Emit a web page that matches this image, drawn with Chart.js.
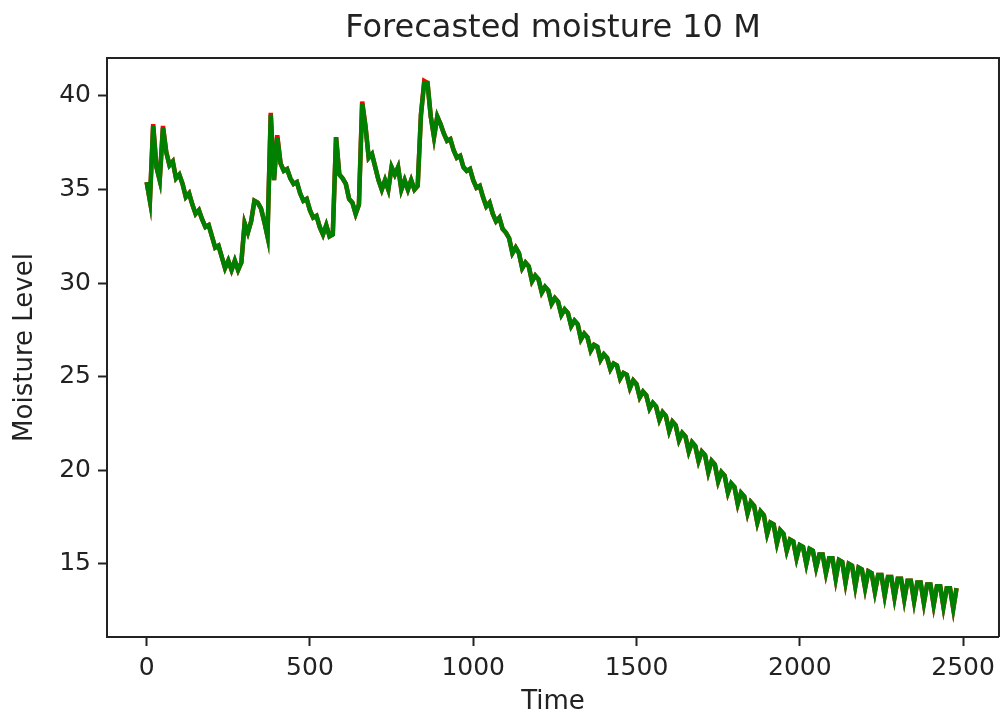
<!DOCTYPE html>
<html>
<head>
<meta charset="utf-8">
<title>Forecasted moisture 10 M</title>
<script src="https://cdn.jsdelivr.net/npm/chart.js@4.4.0/dist/chart.umd.min.js"></script>
<style>
  html, body { margin: 0; padding: 0; background: #ffffff; }
  canvas { display: block; }
</style>
</head>
<body>
<canvas id="moistureChart" width="1002" height="715"></canvas>
<script>
// Time steps (x values)
const time = [
  0, 10, 20, 30, 40, 50, 60, 70, 80, 90,
  100, 110, 120, 130, 140, 150, 160, 170, 180, 190,
  200, 210, 220, 230, 240, 250, 260, 270, 280, 290,
  300, 310, 320, 330, 340, 350, 360, 370, 380, 390,
  400, 410, 420, 430, 440, 450, 460, 470, 480, 490,
  500, 510, 520, 530, 540, 550, 560, 570, 580, 590,
  600, 610, 620, 630, 640, 650, 660, 670, 680, 690,
  700, 710, 720, 730, 740, 750, 760, 770, 780, 790,
  800, 810, 820, 830, 840, 850, 860, 870, 880, 890,
  900, 910, 920, 930, 940, 950, 960, 970, 980, 990,
  1000, 1010, 1020, 1030, 1040, 1050, 1060, 1070, 1080, 1090,
  1100, 1110, 1120, 1130, 1140, 1150, 1160, 1170, 1180, 1190,
  1200, 1210, 1220, 1230, 1240, 1250, 1260, 1270, 1280, 1290,
  1300, 1310, 1320, 1330, 1340, 1350, 1360, 1370, 1380, 1390,
  1400, 1410, 1420, 1430, 1440, 1450, 1460, 1470, 1480, 1490,
  1500, 1510, 1520, 1530, 1540, 1550, 1560, 1570, 1580, 1590,
  1600, 1610, 1620, 1630, 1640, 1650, 1660, 1670, 1680, 1690,
  1700, 1710, 1720, 1730, 1740, 1750, 1760, 1770, 1780, 1790,
  1800, 1810, 1820, 1830, 1840, 1850, 1860, 1870, 1880, 1890,
  1900, 1910, 1920, 1930, 1940, 1950, 1960, 1970, 1980, 1990,
  2000, 2010, 2020, 2030, 2040, 2050, 2060, 2070, 2080, 2090,
  2100, 2110, 2120, 2130, 2140, 2150, 2160, 2170, 2180, 2190,
  2200, 2210, 2220, 2230, 2240, 2250, 2260, 2270, 2280, 2290,
  2300, 2310, 2320, 2330, 2340, 2350, 2360, 2370, 2380, 2390,
  2400, 2410, 2420, 2430, 2440, 2450, 2460, 2470, 2480
];

// Actual moisture (red)
const actual = [
  35.4, 34.4, 38.5, 36.2, 35.5, 38.4, 37.0, 36.3, 36.5, 35.6,
  35.8, 35.3, 34.6, 34.8, 34.2, 33.7, 33.9, 33.4, 33.0, 33.1,
  32.5, 31.9, 32.0, 31.4, 30.8, 31.2, 30.7, 31.2, 30.7, 31.1,
  33.2, 32.7, 33.3, 34.4, 34.3, 34.0, 33.3, 32.5, 39.1, 35.5,
  37.9, 36.4, 36.0, 36.1, 35.6, 35.3, 35.4, 34.8, 34.4, 34.5,
  33.9, 33.5, 33.6, 33.0, 32.6, 33.1, 32.5, 32.6, 37.8, 35.8,
  35.6, 35.3, 34.5, 34.3, 33.7, 34.2, 39.7, 38.4, 36.7, 36.9,
  36.2, 35.5, 35.0, 35.5, 35.0, 36.2, 35.8, 36.2, 35.0, 35.5,
  35.0, 35.5, 35.0, 35.2, 39.0, 40.8, 40.7, 38.9, 37.8, 38.9,
  38.5, 38.0, 37.6, 37.7, 37.1, 36.7, 36.8, 36.2, 36.0, 36.1,
  35.5, 35.1, 35.2, 34.6, 34.1, 34.3, 33.7, 33.3, 33.5, 32.9,
  32.7, 32.4, 31.6, 31.9, 31.6, 30.8, 31.1, 30.9, 30.1, 30.4,
  30.2, 29.5, 29.8, 29.6, 28.9, 29.2, 29.0, 28.3, 28.6, 28.4,
  27.7, 28.0, 27.8, 27.0, 27.3, 27.1, 26.4, 26.7, 26.6, 25.9,
  26.2, 26.0, 25.4, 25.7, 25.6, 24.9, 25.2, 25.1, 24.4, 24.8,
  24.6, 23.9, 24.2, 24.0, 23.3, 23.6, 23.4, 22.7, 23.1, 22.9,
  22.1, 22.6, 22.4, 21.6, 22.0, 21.8, 21.0, 21.5, 21.3, 20.5,
  21.0, 20.8, 19.9, 20.5, 20.3, 19.4, 19.9, 19.7, 18.8, 19.3,
  19.1, 18.2, 18.8, 18.6, 17.7, 18.3, 18.1, 17.2, 17.8, 17.6,
  16.6, 17.2, 17.1, 16.1, 16.8, 16.6, 15.7, 16.3, 16.2, 15.3,
  16.0, 15.9, 15.0, 15.8, 15.7, 14.8, 15.5, 15.5, 14.5, 15.3,
  15.3, 14.2, 15.2, 15.1, 14.0, 15.0, 14.9, 13.8, 14.8, 14.7,
  13.7, 14.6, 14.5, 13.5, 14.4, 14.4, 13.3, 14.3, 14.3, 13.2,
  14.2, 14.2, 13.1, 14.1, 14.1, 13.0, 14.0, 14.0, 12.9, 13.9,
  13.9, 12.8, 13.8, 13.8, 12.7, 13.7, 13.7, 12.6, 13.7
];

// Forecasted moisture (green)
const forecast = [
  35.4, 34.4, 38.4, 36.2, 35.5, 38.3, 37.0, 36.3, 36.5, 35.6,
  35.8, 35.3, 34.6, 34.8, 34.2, 33.7, 33.9, 33.4, 33.0, 33.1,
  32.5, 31.9, 32.0, 31.4, 30.8, 31.2, 30.7, 31.2, 30.7, 31.1,
  33.2, 32.7, 33.3, 34.4, 34.3, 34.0, 33.3, 32.5, 39.0, 35.5,
  37.8, 36.4, 36.0, 36.1, 35.6, 35.3, 35.4, 34.8, 34.4, 34.5,
  33.9, 33.5, 33.6, 33.0, 32.6, 33.1, 32.5, 32.6, 37.8, 35.8,
  35.6, 35.3, 34.5, 34.3, 33.7, 34.2, 39.6, 38.4, 36.7, 36.9,
  36.2, 35.5, 35.0, 35.5, 35.0, 36.2, 35.8, 36.2, 35.0, 35.5,
  35.0, 35.5, 35.0, 35.2, 39.0, 40.7, 40.7, 38.9, 37.8, 38.9,
  38.5, 38.0, 37.6, 37.7, 37.1, 36.7, 36.8, 36.2, 36.0, 36.1,
  35.5, 35.1, 35.2, 34.6, 34.1, 34.3, 33.7, 33.3, 33.5, 32.9,
  32.7, 32.4, 31.6, 31.9, 31.6, 30.8, 31.1, 30.9, 30.1, 30.4,
  30.2, 29.5, 29.8, 29.6, 28.9, 29.2, 29.0, 28.3, 28.6, 28.4,
  27.7, 28.0, 27.8, 27.0, 27.3, 27.1, 26.4, 26.7, 26.6, 25.9,
  26.2, 26.0, 25.4, 25.7, 25.6, 24.9, 25.2, 25.1, 24.4, 24.8,
  24.6, 23.9, 24.2, 24.0, 23.3, 23.6, 23.4, 22.7, 23.1, 22.9,
  22.1, 22.6, 22.4, 21.6, 22.0, 21.8, 21.0, 21.5, 21.3, 20.5,
  21.0, 20.8, 19.9, 20.5, 20.3, 19.4, 19.9, 19.7, 18.8, 19.3,
  19.1, 18.2, 18.8, 18.6, 17.7, 18.3, 18.1, 17.2, 17.8, 17.6,
  16.6, 17.2, 17.1, 16.1, 16.8, 16.6, 15.7, 16.3, 16.2, 15.3,
  16.0, 15.9, 15.0, 15.8, 15.7, 14.8, 15.5, 15.5, 14.5, 15.3,
  15.3, 14.2, 15.2, 15.1, 14.0, 15.0, 14.9, 13.8, 14.8, 14.7,
  13.7, 14.6, 14.5, 13.5, 14.4, 14.4, 13.3, 14.3, 14.3, 13.2,
  14.2, 14.2, 13.1, 14.1, 14.1, 13.0, 14.0, 14.0, 12.9, 13.9,
  13.9, 12.8, 13.8, 13.8, 12.7, 13.7, 13.7, 12.6, 13.7
];

// Tick labels
const xTicks = [0, 500, 1000, 1500, 2000, 2500];
const yTicks = [15, 20, 25, 30, 35, 40];

const ink = '#222222';
const font = 'DejaVu Sans';

// garis kotak di atas dan kanan (spine matplotlib)
const frameBox = {
  id: 'frameBox',
  afterDraw(chart) {
    const { ctx, chartArea: a } = chart;
    ctx.save();
    ctx.strokeStyle = ink;
    ctx.lineWidth = 2;
    ctx.beginPath();
    ctx.moveTo(a.left, a.top);
    ctx.lineTo(a.right, a.top);
    ctx.lineTo(a.right, a.bottom);
    ctx.stroke();
    ctx.restore();
  }
};

const toPoints = (vals) => vals.map((v, i) => ({ x: time[i], y: v }));

const ctx = document.getElementById('moistureChart').getContext('2d');

new Chart(ctx, {
  type: 'line',
  data: {
    datasets: [
      {
        label: 'Forecast',
        data: toPoints(forecast),
        borderColor: '#008000',
        borderWidth: 4.5,
        borderJoinStyle: 'miter',
        pointRadius: 0,
        tension: 0,
        order: 0
      },
      {
        label: 'Actual',
        data: toPoints(actual),
        borderColor: '#ff0000',
        borderWidth: 4.5,
        borderJoinStyle: 'miter',
        pointRadius: 0,
        tension: 0,
        order: 1
      }
    ]
  },
  options: {
    responsive: false,
    animation: false,
    devicePixelRatio: 1,
    layout: { padding: { left: 0, right: 2, top: 0, bottom: 0 } },
    plugins: {
      legend: { display: false },
      tooltip: { enabled: false },
      title: {
        display: true,
        text: 'Forecasted moisture 10 M',
        color: ink,
        fullSize: false,
        font: { family: font, size: 32, weight: 'normal', lineHeight: 1.2 },
        padding: { top: 9, bottom: 10.6 }
      }
    },
    scales: {
      x: {
        type: 'linear',
        min: -121.4,
        max: 2610,
        afterFit: (s) => { s.height = 78; },
        afterBuildTicks: (s) => { s.ticks = xTicks.map(v => ({ value: v })); },
        grid: { drawOnChartArea: false, drawTicks: true, tickLength: 9, tickColor: ink, tickWidth: 2 },
        border: { display: true, color: ink, width: 2 },
        ticks: {
          color: ink, padding: 7, maxRotation: 0,
          font: { family: font, size: 25 },
          callback: (v) => String(v)
        },
        title: {
          display: true, text: 'Time', color: ink,
          font: { family: font, size: 26, lineHeight: 1 },
          padding: { top: 0, bottom: 0 }
        }
      },
      y: {
        type: 'linear',
        min: 11.09,
        max: 42.03,
        afterFit: (s) => { s.width = 107; },
        afterBuildTicks: (s) => { s.ticks = yTicks.map(v => ({ value: v })); },
        grid: { drawOnChartArea: false, drawTicks: true, tickLength: 9, tickColor: ink, tickWidth: 2 },
        border: { display: true, color: ink, width: 2 },
        ticks: {
          color: ink, padding: 7,
          font: { family: font, size: 25 },
          callback: (v) => String(v)
        },
        title: {
          display: true, text: 'Moisture Level', color: ink,
          font: { family: font, size: 26, lineHeight: 1 },
          padding: { top: 12, bottom: 0 }
        }
      }
    }
  },
  plugins: [frameBox]
});
</script>
</body>
</html>
